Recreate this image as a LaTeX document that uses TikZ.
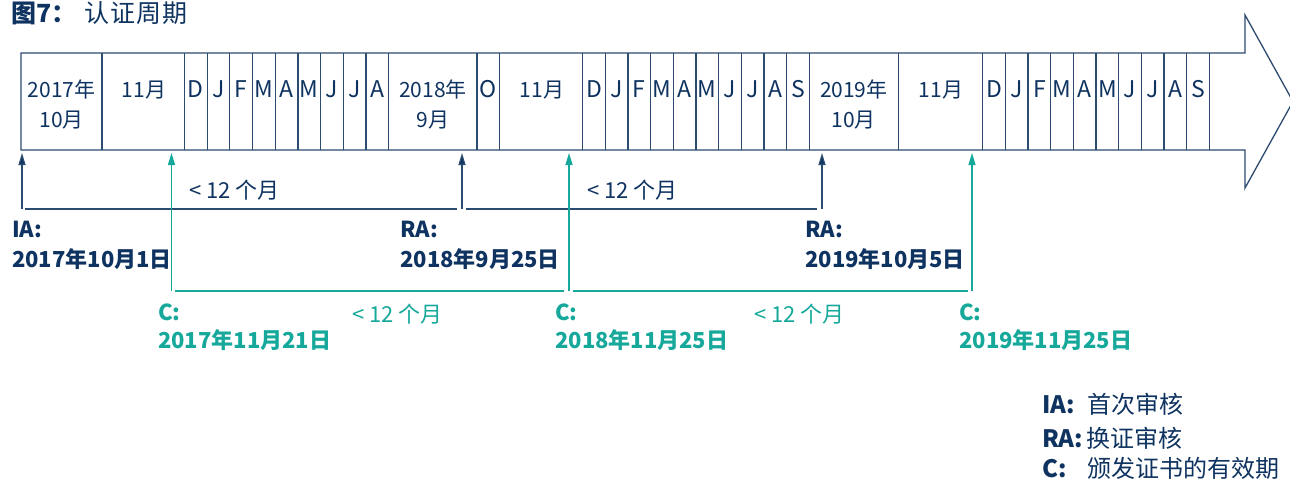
\documentclass[tikz,border=0pt]{standalone}
\usepackage{fontspec}
\setmainfont{Noto Sans CJK SC}
\usetikzlibrary{arrows.meta}
\definecolor{navy}{HTML}{0F3360}
\definecolor{navyline}{HTML}{2B4B70}
\definecolor{tealc}{HTML}{16A99B}
\begin{document}
\begin{tikzpicture}[x=1pt,y=-1pt,
  band/.style={draw=navyline, line width=1.3pt, line join=miter},
  celltxt/.style={text=navy, font=\fontsize{21}{24}\selectfont, inner sep=0pt, anchor=base},
  mon/.style={text=navy, font=\fontsize{23}{24}\selectfont, inner sep=0pt, anchor=base},
  navylab/.style={text=navy, font=\bfseries\fontsize{22}{26}\selectfont, inner sep=0pt, anchor=base west},
  teallab/.style={navylab, text=tealc},
  spannavy/.style={text=navy, font=\fontsize{22}{24}\selectfont, inner sep=0pt, anchor=base west},
  spanteal/.style={spannavy, text=tealc},
  navystem/.style={draw=navyline, line width=1.3pt, -{Triangle[length=12pt,width=7pt,fill=navy]}},
  tealstem/.style={draw=tealc, line width=1.3pt, -{Triangle[length=12pt,width=7pt,fill=tealc]}},
  navyspan/.style={draw=navyline, line width=1.3pt},
  tealspan/.style={draw=tealc, line width=1.3pt},
  legkey/.style={text=navy, font=\bfseries\fontsize{24}{28}\selectfont, inner sep=0pt, anchor=base west},
  legtxt/.style={text=navy, font=\fontsize{24}{28}\selectfont, inner sep=0pt, anchor=base west}
]
\useasboundingbox (0,0) rectangle (1290,479);

% title
\node[text=navy, font=\fontsize{25}{28}\selectfont, inner sep=0pt, anchor=base west] (title) at (11,23)
  {{\bfseries 图7：}\hspace{8pt}认\hspace{1pt}证\hspace{1pt}周\hspace{1pt}期};

% band with arrow head
\draw[band] (21,53) -- (1245,53) -- (1245,15) -- (1293,101.5) -- (1245,188) -- (1245,150) -- (21,150) -- cycle;

% dividers
\foreach \x in {102,477,499.5,898.3} \draw[band] (\x,53) -- (\x,150);
\foreach \i in {0,...,9} \draw[band] ({184.5+22.67*\i},53) -- ({184.5+22.67*\i},150);
\foreach \i in {0,...,10} \draw[band] ({582.6+22.67*\i},53) -- ({582.6+22.67*\i},150);
\foreach \i in {0,...,10} \draw[band] ({982.7+22.67*\i},53) -- ({982.7+22.67*\i},150);

% cell texts
\node[celltxt] (y17a) at (61.5,97) {2017年};
\node[celltxt] (y17b) at (61.5,127) {10月};
\node[celltxt] (n17) at (144,97) {11月};
\foreach \l [count=\i from 0] in {D,J,F,M,A,M,J,J,A}
  \node[mon] (ga\i) at ({184.5+22.67*\i+11.33},97) {\l};
\node[celltxt] (y18a) at (433,97) {2018年};
\node[celltxt] (y18b) at (433,127) {9月};
\node[mon] (o18) at (488.2,97) {O};
\node[celltxt] (n18) at (542,97) {11月};
\foreach \l [count=\i from 0] in {D,J,F,M,A,M,J,J,A,S}
  \node[mon] (gb\i) at ({582.6+22.67*\i+11.33},97) {\l};
\node[celltxt] (y19a) at (853.8,97) {2019年};
\node[celltxt] (y19b) at (853.8,127) {10月};
\node[celltxt] (n19) at (941,97) {11月};
\foreach \l [count=\i from 0] in {D,J,F,M,A,M,J,J,A,S}
  \node[mon] (gc\i) at ({982.7+22.67*\i+11.33},97) {\l};

% stems: coordinates
\coordinate (iaB) at (22,209);   \coordinate (iaT) at (22,153);
\coordinate (ra1B) at (462,209); \coordinate (ra1T) at (462,153);
\coordinate (ra2B) at (822,209); \coordinate (ra2T) at (822,153);
\coordinate (c1B) at (171.5,291); \coordinate (c1T) at (171.5,153);
\coordinate (c2B) at (569,291);   \coordinate (c2T) at (569,153);
\coordinate (c3B) at (972,291);   \coordinate (c3T) at (972,153);

% navy spans
\draw[navyspan] ([xshift=3pt]iaB) -- ([xshift=-5pt]ra1B);
\draw[navyspan] ([xshift=4pt]ra1B) -- ([xshift=-5pt]ra2B);
% teal spans
\draw[tealspan] ([xshift=3pt]c1B) -- ([xshift=-5pt]c2B);
\draw[tealspan] ([xshift=4pt]c2B) -- ([xshift=-4pt]c3B);

\draw[navystem] (iaB) -- (iaT);
\draw[navystem] (ra1B) -- (ra1T);
\draw[navystem] (ra2B) -- (ra2T);
\draw[tealstem] (c1B) -- (c1T);
\draw[tealstem] (c2B) -- (c2T);
\draw[tealstem] (c3B) -- (c3T);

% span labels
\node[spannavy] (s1) at (189,198) {< 12 个月};
\node[spannavy] (s2) at (587,198) {< 12 个月};
\node[spanteal] (s3) at (352,322) {< 12 个月};
\node[spanteal] (s4) at (754,322) {< 12 个月};

% event labels
\node[navylab] (iaL1) at (12,237) {IA:};
\node[navylab] (iaL2) at (12,267) {2017年10月1日};
\node[navylab] (ra1L1) at (400,237) {RA:};
\node[navylab] (ra1L2) at (400,267) {2018年9月25日};
\node[navylab] (ra2L1) at (805,237) {RA:};
\node[navylab] (ra2L2) at (805,267) {2019年10月5日};
\node[teallab] (c1L1) at (158,320) {C:};
\node[teallab] (c1L2) at (158,348) {2017年11月21日};
\node[teallab] (c2L1) at (555,320) {C:};
\node[teallab] (c2L2) at (555,348) {2018年11月25日};
\node[teallab] (c3L1) at (959,320) {C:};
\node[teallab] (c3L2) at (959,348) {2019年11月25日};

% legend
\node[legkey] (k1) at (1042,413) {IA:};
\node[legtxt] (t1) at (1087,413) {首次审核};
\node[legkey] (k2) at (1042,447) {RA:};
\node[legtxt] (t2) at (1086,447) {换证审核};
\node[legkey] (k3) at (1042,477) {C:};
\node[legtxt] (t3) at (1087,477) {颁发证书的有效期};
\end{tikzpicture}
\end{document}
